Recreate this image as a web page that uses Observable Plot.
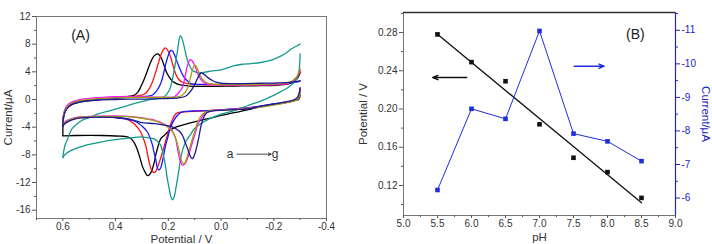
<!DOCTYPE html>
<html>
<head>
<meta charset="utf-8">
<script src="https://cdn.jsdelivr.net/npm/d3@7"></script>
<script src="https://cdn.jsdelivr.net/npm/@observablehq/plot@0.6"></script>
<style>
  body { margin: 0; background: #fff; }
  #fig { position: relative; width: 712px; height: 244px; font-family: "Liberation Sans", Arial, sans-serif; }
  #fig svg { position: absolute; top: 0; }
</style>
</head>
<body>
<div id="fig"></div>
<script>
// ---------- Panel A: cyclic voltammograms, curves a..g ----------
const cvCurves = ["a", "b", "c", "d", "e", "f", "g"];
const cvColors = ["#000000", "#ff1010", "#1a1aff", "#139a8c", "#ff10ff", "#a0a010", "#1c1c90"];

// forward scans, [potential V, current µA], from 0.6 V towards -0.3 V
const fwdA = [[0.6,-5.2],[0.599,-3.2],[0.594,-2.0],[0.584,-1.2],[0.565,-0.7],[0.54,-0.4],[0.5,-0.15],[0.45,0.05],[0.4,0.25],[0.36,0.4],[0.33,0.6],[0.315,1.1],[0.305,1.8],[0.292,2.9],[0.279,4.2],[0.268,5.3],[0.258,6.1],[0.248,6.5],[0.24,6.6],[0.232,6.35],[0.224,5.8],[0.215,4.8],[0.205,3.8],[0.19,2.9],[0.175,2.4],[0.155,2.1],[0.12,1.95],[0.05,1.9],[-0.05,1.95],[-0.15,2.0],[-0.22,2.1],[-0.26,2.3],[-0.28,2.7],[-0.292,3.2],[-0.3,3.9]];
const fwdB = [[0.6,-3.8],[0.598,-2.6],[0.592,-1.7],[0.582,-1.1],[0.565,-0.65],[0.54,-0.35],[0.5,-0.1],[0.45,0.05],[0.4,0.2],[0.35,0.35],[0.31,0.55],[0.29,0.8],[0.275,1.4],[0.262,2.4],[0.254,3.2],[0.242,4.7],[0.231,6.1],[0.222,7.0],[0.212,7.45],[0.202,7.1],[0.191,6.1],[0.182,4.9],[0.172,3.7],[0.16,2.9],[0.146,2.5],[0.12,2.25],[0.08,2.15],[0.0,2.1],[-0.1,2.1],[-0.2,2.15],[-0.25,2.3],[-0.275,2.7],[-0.29,3.3],[-0.3,4.2]];
const fwdC = [[0.6,-3.6],[0.598,-2.5],[0.592,-1.6],[0.582,-1.0],[0.565,-0.55],[0.54,-0.25],[0.5,-0.05],[0.45,0.1],[0.4,0.2],[0.35,0.3],[0.3,0.4],[0.275,0.5],[0.26,0.65],[0.245,1.2],[0.229,2.3],[0.219,3.6],[0.21,5.1],[0.2,6.4],[0.191,7.1],[0.184,7.0],[0.178,6.6],[0.168,5.6],[0.159,4.7],[0.15,3.9],[0.14,3.2],[0.128,2.7],[0.115,2.3],[0.09,2.2],[0.0,2.2],[-0.1,2.2],[-0.2,2.25],[-0.26,2.4],[-0.285,2.5],[-0.3,2.7]];
const fwdD = [[0.6,-8.4],[0.596,-7.3],[0.59,-6.4],[0.584,-5.9],[0.575,-5.0],[0.565,-4.2],[0.545,-3.5],[0.527,-3.0],[0.5,-2.6],[0.463,-2.05],[0.42,-1.6],[0.374,-1.1],[0.33,-0.6],[0.286,-0.15],[0.25,0.1],[0.229,0.2],[0.21,0.6],[0.197,1.3],[0.188,2.3],[0.178,4.2],[0.17,5.9],[0.165,7.1],[0.16,8.4],[0.155,9.2],[0.15,9.0],[0.142,8.0],[0.135,6.8],[0.127,5.6],[0.118,4.8],[0.108,4.2],[0.09,3.9],[0.077,3.85],[0.06,3.95],[0.039,4.1],[0.0,4.3],[-0.05,4.9],[-0.08,5.1],[-0.114,5.2],[-0.15,5.35],[-0.19,5.7],[-0.21,6.0],[-0.228,6.3],[-0.25,6.8],[-0.266,7.3],[-0.285,7.7],[-0.3,8.0]];
const fwdE = [[0.6,-3.5],[0.598,-2.3],[0.592,-1.4],[0.582,-0.8],[0.565,-0.35],[0.54,-0.05],[0.5,0.15],[0.45,0.3],[0.4,0.4],[0.35,0.45],[0.3,0.4],[0.25,0.35],[0.2,0.3],[0.178,0.4],[0.162,0.9],[0.146,1.8],[0.138,3.0],[0.13,4.5],[0.123,5.4],[0.117,5.75],[0.11,5.6],[0.102,5.1],[0.093,4.2],[0.083,3.3],[0.07,2.6],[0.058,2.3],[0.03,2.15],[0.0,2.1],[-0.1,2.1],[-0.2,2.15],[-0.25,2.3],[-0.275,2.7],[-0.29,3.4],[-0.3,4.2]];
const fwdF = [[0.6,-3.7],[0.598,-2.5],[0.592,-1.6],[0.582,-1.0],[0.565,-0.5],[0.54,-0.2],[0.5,0.0],[0.45,0.15],[0.4,0.25],[0.35,0.3],[0.3,0.3],[0.25,0.3],[0.2,0.3],[0.16,0.4],[0.145,0.7],[0.13,1.4],[0.12,2.5],[0.112,3.8],[0.106,4.6],[0.1,5.0],[0.094,4.8],[0.087,4.2],[0.078,3.4],[0.067,2.8],[0.05,2.35],[0.02,2.2],[-0.05,2.15],[-0.15,2.2],[-0.22,2.3],[-0.26,2.5],[-0.285,3.2],[-0.3,4.5]];
const fwdG = [[0.6,-3.9],[0.598,-2.7],[0.592,-1.8],[0.582,-1.2],[0.565,-0.7],[0.54,-0.4],[0.5,-0.2],[0.45,-0.05],[0.4,0.0],[0.35,0.05],[0.3,0.05],[0.25,0.1],[0.2,0.15],[0.16,0.25],[0.14,0.4],[0.127,0.7],[0.115,1.2],[0.102,2.0],[0.09,3.0],[0.08,3.7],[0.075,3.85],[0.068,3.75],[0.06,3.5],[0.051,3.2],[0.035,2.8],[0.019,2.5],[0.0,2.35],[-0.05,2.3],[-0.15,2.35],[-0.22,2.4],[-0.27,2.5],[-0.3,2.7]];

// reverse scans, from -0.3 V back to 0.6 V
const revA = [[-0.3,0.6],[-0.296,0.1],[-0.288,-0.1],[-0.278,-0.15],[-0.25,-0.4],[-0.2,-0.7],[-0.177,-0.86],[-0.12,-1.3],[-0.05,-1.9],[0.0,-2.3],[0.04,-2.7],[0.077,-3.0],[0.127,-3.5],[0.178,-4.1],[0.203,-4.7],[0.216,-5.2],[0.229,-5.7],[0.24,-6.9],[0.248,-8.1],[0.255,-9.3],[0.262,-10.2],[0.27,-10.8],[0.279,-11.0],[0.288,-10.5],[0.298,-9.7],[0.307,-8.5],[0.317,-7.3],[0.33,-6.2],[0.343,-5.6],[0.36,-5.35],[0.381,-5.3],[0.45,-5.2],[0.55,-5.2],[0.6,-5.25]];
const revB = [[-0.3,1.2],[-0.297,0.6],[-0.29,0.1],[-0.275,-0.2],[-0.25,-0.4],[-0.2,-0.7],[-0.15,-1.0],[-0.1,-1.2],[-0.05,-1.35],[0.0,-1.5],[0.05,-1.6],[0.1,-1.7],[0.14,-1.8],[0.16,-1.85],[0.172,-2.1],[0.182,-2.7],[0.193,-3.8],[0.203,-5.0],[0.216,-6.8],[0.23,-8.6],[0.241,-9.8],[0.25,-10.5],[0.258,-10.5],[0.266,-10.0],[0.273,-9.0],[0.28,-7.7],[0.286,-6.6],[0.295,-5.6],[0.305,-4.7],[0.318,-4.0],[0.33,-3.5],[0.355,-2.9],[0.381,-2.7],[0.45,-2.5],[0.5,-2.5],[0.54,-2.65],[0.565,-2.85],[0.585,-3.2],[0.595,-3.5],[0.6,-3.8]];
const revC = [[-0.3,1.6],[-0.297,0.9],[-0.29,0.2],[-0.275,-0.15],[-0.25,-0.35],[-0.2,-0.65],[-0.15,-0.95],[-0.1,-1.2],[-0.05,-1.35],[0.0,-1.5],[0.05,-1.6],[0.1,-1.65],[0.13,-1.7],[0.146,-1.8],[0.16,-2.1],[0.172,-2.6],[0.183,-3.3],[0.193,-4.2],[0.2,-5.2],[0.21,-6.6],[0.219,-8.3],[0.229,-9.9],[0.236,-10.2],[0.242,-9.8],[0.248,-8.6],[0.255,-7.5],[0.26,-6.6],[0.27,-5.5],[0.279,-4.7],[0.295,-4.0],[0.311,-3.5],[0.33,-3.1],[0.355,-2.85],[0.4,-2.6],[0.45,-2.5],[0.5,-2.5],[0.54,-2.6],[0.565,-2.8],[0.585,-3.1],[0.595,-3.4],[0.6,-3.6]];
const revD = [[-0.3,6.6],[-0.299,5.5],[-0.296,4.3],[-0.29,3.2],[-0.28,2.6],[-0.266,2.1],[-0.253,1.7],[-0.22,1.0],[-0.177,0.2],[-0.152,-0.2],[-0.1,-0.9],[-0.05,-1.6],[0.0,-2.1],[0.039,-2.7],[0.077,-3.5],[0.1,-4.2],[0.115,-5.0],[0.134,-6.1],[0.145,-7.2],[0.153,-8.5],[0.16,-10.2],[0.165,-11.4],[0.172,-13.0],[0.178,-14.1],[0.184,-14.5],[0.19,-14.1],[0.196,-13.0],[0.204,-11.4],[0.21,-9.8],[0.216,-8.5],[0.223,-7.4],[0.229,-6.6],[0.24,-6.1],[0.254,-5.7],[0.28,-5.5],[0.305,-5.4],[0.336,-5.5],[0.38,-5.7],[0.438,-6.0],[0.5,-6.5],[0.552,-7.1],[0.58,-7.6],[0.595,-8.1],[0.6,-8.4]];
const revE = [[-0.3,1.3],[-0.297,0.7],[-0.29,0.1],[-0.275,-0.2],[-0.25,-0.4],[-0.2,-0.75],[-0.15,-1.05],[-0.1,-1.25],[-0.05,-1.4],[0.0,-1.5],[0.039,-1.6],[0.055,-1.9],[0.07,-2.4],[0.08,-3.0],[0.089,-3.7],[0.098,-4.9],[0.108,-6.1],[0.118,-7.4],[0.127,-8.5],[0.137,-9.3],[0.146,-9.5],[0.153,-9.1],[0.16,-8.1],[0.166,-6.9],[0.172,-5.7],[0.18,-4.9],[0.191,-4.2],[0.21,-3.7],[0.229,-3.3],[0.25,-3.0],[0.279,-2.8],[0.32,-2.55],[0.37,-2.4],[0.45,-2.4],[0.5,-2.45],[0.54,-2.55],[0.565,-2.75],[0.585,-3.05],[0.595,-3.35],[0.6,-3.5]];
const revF = [[-0.3,1.0],[-0.297,0.4],[-0.29,0.0],[-0.275,-0.25],[-0.25,-0.45],[-0.2,-0.8],[-0.15,-1.1],[-0.1,-1.3],[-0.05,-1.45],[0.0,-1.55],[0.045,-1.65],[0.065,-1.95],[0.08,-2.6],[0.089,-3.3],[0.098,-4.4],[0.108,-5.6],[0.118,-6.9],[0.127,-8.1],[0.134,-8.9],[0.14,-9.3],[0.147,-9.1],[0.154,-8.3],[0.16,-7.3],[0.167,-6.2],[0.175,-5.3],[0.187,-4.5],[0.205,-3.9],[0.229,-3.4],[0.25,-3.1],[0.279,-2.85],[0.32,-2.6],[0.37,-2.45],[0.45,-2.45],[0.5,-2.5],[0.54,-2.6],[0.565,-2.8],[0.585,-3.15],[0.595,-3.45],[0.6,-3.7]];
const revG = [[-0.3,1.7],[-0.297,1.0],[-0.29,0.3],[-0.275,-0.1],[-0.25,-0.3],[-0.2,-0.65],[-0.15,-0.95],[-0.114,-1.3],[-0.05,-1.45],[0.0,-1.55],[0.03,-1.65],[0.051,-1.85],[0.062,-2.3],[0.07,-3.0],[0.077,-4.0],[0.083,-5.2],[0.09,-6.5],[0.098,-7.7],[0.104,-8.3],[0.108,-8.55],[0.114,-8.4],[0.12,-7.9],[0.127,-7.1],[0.137,-6.1],[0.146,-5.2],[0.158,-4.6],[0.172,-4.2],[0.19,-3.9],[0.215,-3.7],[0.25,-3.5],[0.305,-3.3],[0.33,-3.0],[0.37,-2.7],[0.45,-2.55],[0.5,-2.6],[0.54,-2.7],[0.565,-2.95],[0.585,-3.3],[0.595,-3.6],[0.6,-3.9]];

const cvForward = [fwdA, fwdB, fwdC, fwdD, fwdE, fwdF, fwdG];
const cvReverse = [revA, revB, revC, revD, revE, revF, revG];

// axis ticks of panel A
const potTicks = [0.6, 0.4, 0.2, 0.0, -0.2, -0.4];
const potMinor = [0.7, 0.5, 0.3, 0.1, -0.1, -0.3];
const curTicks = [12, 8, 4, 0, -4, -8, -12, -16];
const curMinor = [10, 6, 2, -2, -6, -10, -14];
const potDomain = [0.7, -0.4];
const curDomain = [-17.2, 12];

// annotations of panel A
const panelATag = [{V: 0.533, I: 9.3, t: "(A)"}];
const seriesNote = [{V: -0.034, I: -7.9, t: "a"}, {V: -0.205, I: -7.9, t: "g"}];
const seriesArrow = [{V1: -0.06, V2: -0.19, I: -7.9}];

// ---------- Panel B: peak potential and peak current vs pH ----------
const pH = [5.5, 6.0, 6.5, 7.0, 7.5, 8.0, 8.5];
const peakPotential = [0.278, 0.249, 0.229, 0.184, 0.149, 0.134, 0.107];
const peakCurrent = [-6.24, -8.66, -8.36, -10.98, -7.92, -7.69, -7.10];

const pHTicks = [5.0, 5.5, 6.0, 6.5, 7.0, 7.5, 8.0, 8.5, 9.0];
const pHMinor = [5.25, 5.75, 6.25, 6.75, 7.25, 7.75, 8.25, 8.75];
const potBTicks = [0.12, 0.16, 0.20, 0.24, 0.28];
const potBMinor = [0.10, 0.14, 0.18, 0.22, 0.26, 0.30];
const curBTicks = [-6, -7, -8, -9, -10, -11];
const curBMinor = [-6.5, -7.5, -8.5, -9.5, -10.5, -11.5];
const pHDomain = [5, 9];
const potBDomain = [0.0886, 0.3009];
const curBDomain = [-5.48, -11.53];

const panelBTag = [{x: 8.41, y: 0.278, t: "(B)"}];
const potArrow = [{x1: 5.93, x2: 5.43, y: 0.2329}];
const curArrow = [{x1: 7.51, x2: 7.95, y: -9.93}];

// ---------- build tables ----------
const cvRows = cvCurves.flatMap((c, i) => [
  ...cvForward[i].map(([V, I]) => ({curve: c, scan: c + "-fwd", V, I})),
  ...cvReverse[i].map(([V, I]) => ({curve: c, scan: c + "-rev", V, I}))
]);
const bRows = pH.map((p, i) => ({pH: p, potential: peakPotential[i], current: peakCurrent[i]}));

const font = "'Liberation Sans', Arial, sans-serif";
const tickColor = "#333";
const blue = "#1e2ee0";
const axisBlue = "#2424c0";

const baseStyle = {fontFamily: font, fontSize: "10px", color: tickColor, background: "transparent", overflow: "visible"};
const axisTitle = {textAnchor: "middle", lineAnchor: "middle", fontSize: 11.5};

// ---------- Panel A plot ----------
const plotA = Plot.plot({
  width: 356, height: 244,
  marginLeft: 36, marginRight: 30, marginTop: 16, marginBottom: 26,
  style: baseStyle,
  x: {domain: potDomain},
  y: {domain: curDomain},
  color: {domain: cvCurves, range: cvColors},
  marks: [
    Plot.frame({stroke: "#777"}),
    Plot.axisY({ticks: curMinor, tickSize: 2, tickFormat: () => "", label: null, stroke: "#555"}),
    Plot.axisY({ticks: curTicks, tickSize: 4, tickPadding: 2, tickFormat: d => String(d), label: null, stroke: "#555", fill: tickColor}),
    Plot.axisX({ticks: potMinor, tickSize: 2, tickFormat: () => "", label: null, stroke: "#555"}),
    Plot.axisX({ticks: potTicks, tickSize: 3, tickPadding: 1, tickFormat: d => d.toFixed(1), label: null, stroke: "#555", fill: tickColor}),
    Plot.line(cvRows, {x: "V", y: "I", z: "scan", stroke: "curve", strokeWidth: 1.3, curve: "catmull-rom"}),
    Plot.text(panelATag, {x: "V", y: "I", text: "t", fontSize: 14, fill: "#222"}),
    Plot.text(seriesNote, {x: "V", y: "I", text: "t", fontSize: 12, fill: "#333"}),
    Plot.arrow(seriesArrow, {x1: "V1", x2: "V2", y1: "I", y2: "I", stroke: "#333", strokeWidth: 0.9, headLength: 5, headAngle: 50}),
    Plot.text(["Current/\u03bcA"], {...axisTitle, frameAnchor: "left", dx: -28, rotate: -90, fill: "#333"}),
    Plot.text(["Potential / V"], {...axisTitle, frameAnchor: "bottom", dy: 21, fill: "#333"})
  ]
});
plotA.style.left = "0px";

// ---------- Panel B, left scale: peak potential ----------
const plotB1 = Plot.plot({
  width: 356, height: 244,
  marginLeft: 47, marginRight: 37, marginTop: 12, marginBottom: 29,
  style: baseStyle,
  x: {domain: pHDomain},
  y: {domain: potBDomain},
  marks: [
    Plot.frame({stroke: "#777"}),
    Plot.ruleY([potBDomain[1]], {stroke: "#333", strokeWidth: 1.6}),
    Plot.axisY({ticks: potBMinor, tickSize: 2, tickFormat: () => "", label: null, stroke: "#555"}),
    Plot.axisY({ticks: potBTicks, tickSize: 4, tickPadding: 2, tickFormat: d => d.toFixed(2), label: null, stroke: "#555", fill: tickColor}),
    Plot.axisX({ticks: pHMinor, tickSize: 2, tickFormat: () => "", label: null, stroke: "#555"}),
    Plot.axisX({ticks: pHTicks, tickSize: 3, tickPadding: 1, tickFormat: d => d.toFixed(1), label: null, stroke: "#555", fill: tickColor}),
    Plot.linearRegressionY(bRows, {x: "pH", y: "potential", stroke: "#111", strokeWidth: 1.3, ci: 0}),
    Plot.dot(bRows, {x: "pH", y: "potential", symbol: "square", r: 2.6, fill: "#111", stroke: "none"}),
    Plot.arrow(potArrow, {x1: "x1", x2: "x2", y1: "y", y2: "y", stroke: "#111", strokeWidth: 1.4, headLength: 6, headAngle: 45}),
    Plot.text(panelBTag, {x: "x", y: "y", text: "t", fontSize: 14, fill: "#222"}),
    Plot.text(["Potential / V"], {...axisTitle, frameAnchor: "left", dx: -40, rotate: -90, fill: "#333"}),
    Plot.text(["pH"], {...axisTitle, frameAnchor: "bottom", dy: 22, fill: "#333"})
  ]
});
plotB1.style.left = "356px";

// ---------- Panel B, right scale: peak current ----------
const plotB2 = Plot.plot({
  width: 356, height: 244,
  marginLeft: 47, marginRight: 37, marginTop: 12, marginBottom: 29,
  style: baseStyle,
  x: {domain: pHDomain, axis: null},
  y: {domain: curBDomain},
  marks: [
    Plot.ruleX([pHDomain[1]], {stroke: axisBlue, strokeWidth: 1.2}),
    Plot.axisY({anchor: "right", ticks: curBMinor, tickSize: 2, tickFormat: () => "", label: null, stroke: axisBlue}),
    Plot.axisY({anchor: "right", ticks: curBTicks, tickSize: 4, tickPadding: 2, tickFormat: d => String(d), label: null, stroke: axisBlue, fill: axisBlue}),
    Plot.line(bRows, {x: "pH", y: "current", stroke: blue, strokeWidth: 1}),
    Plot.dot(bRows, {x: "pH", y: "current", symbol: "square", r: 2.6, fill: blue, stroke: "none"}),
    Plot.arrow(curArrow, {x1: "x1", x2: "x2", y1: "y", y2: "y", stroke: blue, strokeWidth: 1.4, headLength: 6, headAngle: 45}),
    Plot.text(["Current/\u03bcA"], {...axisTitle, frameAnchor: "right", dx: 30, rotate: 90, fill: axisBlue})
  ]
});
plotB2.style.left = "356px";

const fig = document.getElementById("fig");
fig.append(plotA, plotB1, plotB2);
</script>
</body>
</html>
